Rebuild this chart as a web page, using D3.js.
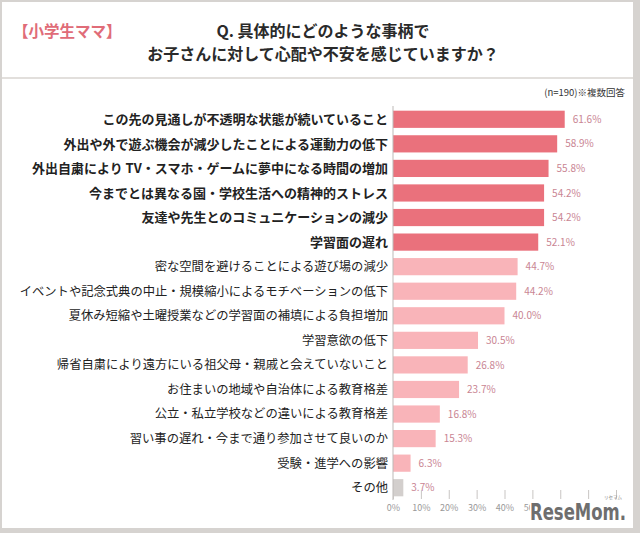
<!DOCTYPE html>
<html><head><meta charset="utf-8">
<script src="https://cdn.jsdelivr.net/npm/d3@7"></script>
<style>
html,body{margin:0;padding:0;background:#d6d3d0;}
svg{display:block;}
</style></head>
<body>
<svg id="c" width="640" height="533"></svg>
<script>
const categories = [
  "この先の見通しが不透明な状態が続いていること",
  "外出や外で遊ぶ機会が減少したことによる運動力の低下",
  "外出自粛により TV・スマホ・ゲームに夢中になる時間の増加",
  "今までとは異なる園・学校生活への精神的ストレス",
  "友達や先生とのコミュニケーションの減少",
  "学習面の遅れ",
  "密な空間を避けることによる遊び場の減少",
  "イベントや記念式典の中止・規模縮小によるモチベーションの低下",
  "夏休み短縮や土曜授業などの学習面の補填による負担増加",
  "学習意欲の低下",
  "帰省自粛により遠方にいる祖父母・親戚と会えていないこと",
  "お住まいの地域や自治体による教育格差",
  "公立・私立学校などの違いによる教育格差",
  "習い事の遅れ・今まで通り参加させて良いのか",
  "受験・進学への影響",
  "その他"
];
const values = [61.6, 58.9, 55.8, 54.2, 54.2, 52.1, 44.7, 44.2, 40.0, 30.5, 26.8, 23.7, 16.8, 15.3, 6.3, 3.7];
const tickValues = [0, 10, 20, 30, 40, 50, 60, 70, 80];
const labelledTicks = [0, 10, 20, 30, 40, 50];
const topCount = 6;

const font = "'Noto Sans CJK JP','Noto Sans',sans-serif";
const svg = d3.select("#c");

// white panel
svg.append("rect").attr("x", 2).attr("y", 2).attr("width", 631).attr("height", 526).attr("fill", "#fff");
// header divider
svg.append("rect").attr("x", 2).attr("y", 77).attr("width", 631).attr("height", 2).attr("fill", "#e2dfdc");

svg.append("text").attr("x", 13).attr("y", 37).attr("font-family", font).attr("font-size", 15.5)
  .attr("font-weight", 700).attr("fill", "#e06c78").text("【小学生ママ】");
svg.append("text").attr("x", 323).attr("y", 37).attr("text-anchor", "middle").attr("font-family", font)
  .attr("font-size", 16).attr("font-weight", 700).attr("fill", "#2a2a2a").text("Q. 具体的にどのような事柄で");
svg.append("text").attr("x", 323).attr("y", 60).attr("text-anchor", "middle").attr("font-family", font)
  .attr("font-size", 16).attr("font-weight", 700).attr("fill", "#2a2a2a").text("お子さんに対して心配や不安を感じていますか？");

svg.append("text").attr("x", 625).attr("y", 96).attr("text-anchor", "end").attr("font-family", font)
  .attr("font-size", 9.5).attr("fill", "#333").text("(n=190)※複数回答");

const x = d3.scaleLinear().domain([0, 80]).range([393, 616]);
const y = d3.scaleBand().domain(categories).range([107, 500]).paddingInner(0.3).paddingOuter(0.15);

const colorFor = i => i < topCount ? "#ea717c" : (i === categories.length - 1 ? "#d3cfcd" : "#f9b4b9");

const g = svg.append("g");
g.selectAll("rect.bar").data(values).join("rect").attr("class", "bar")
  .attr("x", x(0)).attr("y", (d, i) => y(categories[i]))
  .attr("width", d => x(d) - x(0)).attr("height", y.bandwidth())
  .attr("fill", (d, i) => colorFor(i));

g.selectAll("text.val").data(values).join("text").attr("class", "val")
  .attr("x", d => x(d) + 8).attr("y", (d, i) => y(categories[i]) + y.bandwidth() / 2)
  .attr("dy", "0.36em").attr("font-family", font).attr("font-size", 10)
  .attr("fill", "#c98593").text(d => d.toFixed(1) + "%");

g.selectAll("text.cat").data(categories).join("text").attr("class", "cat")
  .attr("x", 388).attr("y", d => y(d) + y.bandwidth() / 2).attr("dy", "0.36em")
  .attr("text-anchor", "end").attr("font-family", font)
  .attr("font-size", (d, i) => i < topCount ? 13 : 12.3)
  .attr("font-weight", (d, i) => i < topCount ? 700 : 400).attr("fill", "#222").text(d => d);

// vertical axis line
svg.append("line").attr("x1", x(0)).attr("x2", x(0)).attr("y1", 106).attr("y2", 500)
  .attr("stroke", "#bdb9b7").attr("stroke-width", 1);

// x axis ticks and labels
const axis = d3.axisBottom(x).tickValues(tickValues)
  .tickFormat(d => labelledTicks.includes(d) ? d + "%" : "").tickSize(9).tickPadding(6);
const ax = svg.append("g").attr("transform", "translate(0,490)").call(axis);
ax.select(".domain").remove();
ax.selectAll(".tick line").attr("stroke", "#c8c5c3");
ax.selectAll(".tick text").attr("font-family", font).attr("font-size", 9).attr("fill", "#999");

// watermark logo (covers the right part of the axis labels, as in the source)
svg.append("rect").attr("x", 530).attr("y", 500).attr("width", 100).attr("height", 22).attr("fill", "#fff");
svg.append("text").attr("x", 530).attr("y", 520).attr("font-family", "'DejaVu Sans',sans-serif")
  .attr("font-size", 23).attr("font-weight", 700).attr("fill", "#6e6e6e")
  .attr("textLength", 96).attr("lengthAdjust", "spacingAndGlyphs")
  .text("ReseMom.");
svg.append("text").attr("x", 604).attr("y", 499).attr("font-family", font)
  .attr("font-size", 4.5).attr("fill", "#888").text("リセマム");
</script>
</body></html>
